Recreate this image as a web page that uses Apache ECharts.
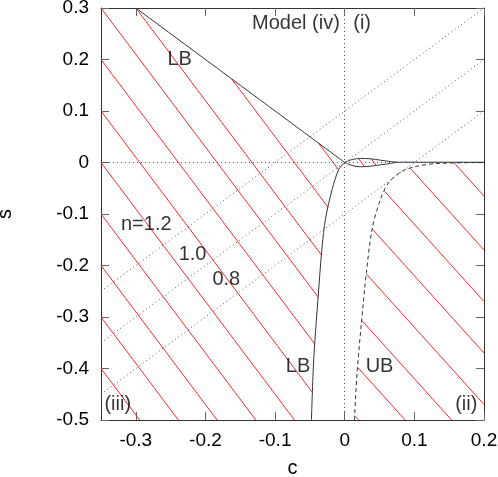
<!DOCTYPE html>
<html>
<head>
<meta charset="utf-8">
<script src="https://cdn.jsdelivr.net/npm/echarts@6/dist/echarts.min.js"></script>
<style>
  html, body { margin: 0; padding: 0; background: #fff; }
  #chart { width: 498px; height: 477px; }
</style>
</head>
<body>
<div id="chart"></div>
<script>
// ticks
const xTicks = [-0.3, -0.2, -0.1, 0, 0.1, 0.2];
const yTicks = [-0.5, -0.4, -0.3, -0.2, -0.1, 0, 0.1, 0.2, 0.3];

// boundary curves (c, s)
const upperLB = [[-0.3, 0.3], [0, 0]];
const lowerLB = [[0, 0], [-0.0086, -0.0136], [-0.0181, -0.0523], [-0.0277, -0.110],
  [-0.0324, -0.162], [-0.0366, -0.232], [-0.0445, -0.382], [-0.0478, -0.5]];
const loopUpper = [[0, 0], [0.0106, 0.0058], [0.0225, 0.0078], [0.0369, 0.0072],
  [0.0513, 0.0045], [0.0656, 0.0019], [0.075, 0.0006], [0.2, 0.0005]];
const loopLower = [[0, 0], [0.0106, -0.0058], [0.0225, -0.0083], [0.0369, -0.0072],
  [0.0513, -0.0045], [0.0656, -0.0019], [0.075, 0.0006]];
const upperBound = [[0.0139, -0.5], [0.0178, -0.4076], [0.024, -0.3107], [0.0311, -0.2138],
  [0.0393, -0.1298], [0.0512, -0.0717], [0.0631, -0.0393], [0.0824, -0.0169],
  [0.1039, -0.0072], [0.1326, -0.0019], [0.2, 0]];

// dotted n lines: s = c + offset
const nOffsets = [0.1, 0, -0.1];

// hatch families (value = s where the line meets c = at)
const hatchA = { slope: -1.8, at: -0.35, values: [-0.4, -0.3, -0.2, -0.1, 0, 0.1, 0.2, 0.3, 0.39, 0.5, 0.6] };
const hatchB = { slope: -1.5, at: 0.2, values: [-0.065, -0.17, -0.27, -0.37, -0.47, -0.57, -0.67, -0.77] };
const hatchLoop = { slope: -1.8, zeros: [0.024, 0.042] };

// text labels
const notes = [
  ['Model (iv)', -0.070, 0.269], ['(i)', 0.025, 0.269], ['LB', -0.237, 0.200],
  ['n=1.2', -0.285, -0.120], ['1.0', -0.2185, -0.179], ['0.8', -0.170, -0.227],
  ['LB', -0.067, -0.397], ['UB', 0.050, -0.397], ['(iii)', -0.326, -0.469], ['(ii)', 0.1746, -0.469]
];

const C_MIN = -0.35, C_MAX = 0.2, S_MIN = -0.5, S_MAX = 0.3;

// first crossing of line s = a + b*c with a polyline
function crossC(a, b, poly) {
  for (let i = 0; i < poly.length - 1; i++) {
    const p = poly[i], q = poly[i + 1];
    const fp = p[1] - (a + b * p[0]);
    const fq = q[1] - (a + b * q[0]);
    if (fp === 0) return p[0];
    if (fp * fq < 0) {
      const t = fp / (fp - fq);
      return p[0] + t * (q[0] - p[0]);
    }
  }
  return null;
}

const seg = (a, b, c1, c2) => ({ coords: [[c1, a + b * c1], [c2, a + b * c2]] });
const hatch = [];

hatchA.values.forEach(v => {
  const b = hatchA.slope, a = v - b * hatchA.at;
  let cs = Math.max(C_MIN, (S_MAX - a) / b);
  const cu = crossC(a, b, upperLB);
  if (cu !== null) cs = Math.max(cs, cu);
  let ce = Math.min(C_MAX, (S_MIN - a) / b);
  const cl = crossC(a, b, lowerLB);
  if (cl !== null) ce = Math.min(ce, cl);
  if (ce > cs) hatch.push(seg(a, b, cs, ce));
});

hatchB.values.forEach(v => {
  const b = hatchB.slope, a = v - b * hatchB.at;
  const cs = crossC(a, b, upperBound);
  const ce = Math.min(C_MAX, (S_MIN - a) / b);
  if (cs !== null && ce > cs) hatch.push(seg(a, b, cs, ce));
});

hatchLoop.zeros.forEach(z => {
  const b = hatchLoop.slope, a = -b * z;
  const cs = crossC(a, b, loopUpper), ce = crossC(a, b, loopLower);
  if (cs !== null && ce !== null) hatch.push(seg(a, b, cs, ce));
});

const dotted = nOffsets.map(o => ({ coords: [[C_MIN, C_MIN + o], [Math.min(C_MAX, S_MAX - o), Math.min(C_MAX + o, S_MAX)]] }));
dotted.push({ coords: [[C_MIN, 0], [C_MAX, 0]] });
dotted.push({ coords: [[0, S_MIN], [0, S_MAX]] });

const FONT = 'Liberation Sans, Arial, sans-serif';
const fmt = v => (Math.abs(v) < 1e-9 ? '0' : v.toFixed(1));

const chart = echarts.init(document.getElementById('chart'), null, { renderer: 'canvas' });

const axisCommon = {
  type: 'value',
  axisLine: { onZero: false, lineStyle: { color: '#333', width: 1 } },
  splitLine: { show: false },
};

const curve = (data, dashed) => ({
  type: 'line',
  data: data,
  showSymbol: false,
  smooth: 0.3,
  lineStyle: { color: '#333', width: 1, type: dashed ? [4, 3] : 'solid' },
  z: 4,
  silent: true,
});

chart.setOption({
  animation: false,
  grid: { left: 101, right: 14, top: 8, bottom: 57, outerBoundsMode: 'none', containLabel: false },
  xAxis: [
    Object.assign({}, axisCommon, {
      min: C_MIN, max: C_MAX, position: 'bottom',
      name: 'c', nameLocation: 'middle', nameGap: 38,
      nameTextStyle: { color: '#000', fontSize: 20, fontFamily: FONT },
      axisTick: { inside: true, length: 8, customValues: xTicks, lineStyle: { color: '#666' } },
      axisLabel: { customValues: xTicks, formatter: fmt, color: '#000', fontSize: 19, fontFamily: FONT, margin: 11 },
    }),
    Object.assign({}, axisCommon, {
      min: C_MIN, max: C_MAX, position: 'top',
      axisTick: { inside: true, length: 8, customValues: xTicks, lineStyle: { color: '#666' } },
      axisLabel: { show: false },
    }),
  ],
  yAxis: [
    Object.assign({}, axisCommon, {
      min: S_MIN, max: S_MAX, position: 'left',
      name: 's', nameLocation: 'middle', nameGap: 86, nameRotate: 90,
      nameTextStyle: { color: '#000', fontSize: 20, fontFamily: FONT },
      axisTick: { inside: true, length: 8, customValues: yTicks, lineStyle: { color: '#666' } },
      axisLabel: { customValues: yTicks, formatter: fmt, color: '#000', fontSize: 19, fontFamily: FONT, margin: 12 },
    }),
    Object.assign({}, axisCommon, {
      min: S_MIN, max: S_MAX, position: 'right',
      axisTick: { inside: true, length: 8, customValues: yTicks, lineStyle: { color: '#666' } },
      axisLabel: { show: false },
    }),
  ],
  series: [
    {
      type: 'lines', coordinateSystem: 'cartesian2d', data: dotted, silent: true, z: 1,
      lineStyle: { color: '#555', width: 1, opacity: 1, type: [1, 3] },
    },
    {
      type: 'lines', coordinateSystem: 'cartesian2d', data: hatch, silent: true, z: 2,
      lineStyle: { color: '#ff2a2a', width: 1, opacity: 1 },
    },
    curve(upperLB, false),
    curve(lowerLB, false),
    curve(loopUpper, false),
    curve(loopLower, false),
    curve(upperBound, true),
    {
      type: 'scatter', symbolSize: 1, silent: true, z: 5,
      itemStyle: { color: 'rgba(0,0,0,0)' },
      data: notes.map(n => ({ name: n[0], value: [n[1], n[2]] })),
      label: { show: true, position: 'inside', formatter: '{b}', color: '#000', fontSize: 20, fontFamily: FONT },
    },
  ],
});
</script>
</body>
</html>
